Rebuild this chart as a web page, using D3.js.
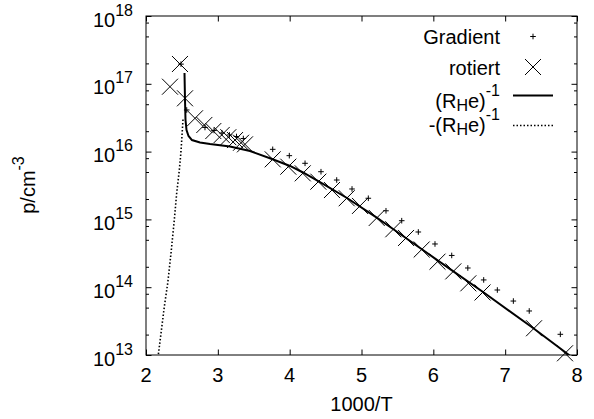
<!DOCTYPE html>
<html><head><meta charset="utf-8">
<script src="https://cdn.jsdelivr.net/npm/d3@7"></script>
<style>
html,body{margin:0;padding:0;background:#fff;}
text{font-family:"Liberation Sans",Arial,Helvetica,sans-serif;fill:#000;}
</style></head>
<body>
<svg id="chart" width="594" height="419"></svg>
<script>
// ---------- data ----------
const xTicks = [2, 3, 4, 5, 6, 7, 8];
const yExponents = [13, 14, 15, 16, 17, 18];
const yMinorMantissas = [2, 5, 8];

const gradientX = [2.487, 2.567, 2.821, 2.947, 3.058, 3.162, 3.260, 3.355,
  3.764, 3.995, 4.214, 4.436, 4.655, 4.868, 5.095, 5.341, 5.560, 5.791,
  6.023, 6.256, 6.480, 6.701, 6.891, 7.114, 7.335, 7.768];
const gradientY = [1.95e17, 4.11e16, 2.27e16, 2.05e16, 1.88e16, 1.76e16, 1.67e16, 1.56e16,
  1.08e16, 8.71e15, 6.72e15, 5.05e15, 3.81e15, 2.81e15, 2.05e15, 1.34e15, 9.57e14, 6.52e14,
  4.34e14, 2.94e14, 1.92e14, 1.28e14, 9.09e13, 6.25e13, 4.46e13, 2.02e13];

const rotiertX = [2.473, 2.334, 2.543, 2.682, 2.812, 2.937, 3.054, 3.146, 3.239, 3.323, 3.378,
  3.764, 3.981, 4.182, 4.399, 4.589, 4.794, 4.979, 5.212, 5.443, 5.620, 5.838,
  6.058, 6.278, 6.487, 6.685, 7.402, 7.833];
const rotiertY = [1.96e17, 9.06e16, 6.11e16, 3.10e16, 2.47e16, 2.01e16, 1.76e16, 1.63e16, 1.48e16, 1.35e16, 1.28e16,
  7.69e15, 5.99e15, 4.78e15, 3.60e15, 2.71e15, 2.05e15, 1.58e15, 1.05e15, 7.15e14, 5.32e14, 3.60e14,
  2.38e14, 1.71e14, 1.14e14, 8.36e13, 2.48e13, 1.06e13];

const fitX = [2.536, 2.543, 2.550, 2.564, 2.592, 2.640, 2.752, 2.891, 3.169, 3.448, 3.754,
  4.005, 4.186, 4.422, 4.798, 5.202, 5.439, 5.815, 6.274, 6.692, 7.388, 7.889, 7.95];
const fitY = [1.44e17, 5.77e16, 2.92e16, 2.08e16, 1.70e16, 1.48e16, 1.36e16, 1.29e16, 1.19e16, 1.02e16, 7.78e15,
  6.14e15, 4.92e15, 3.56e15, 2.07e15, 1.08e15, 7.21e14, 3.78e14, 1.73e14, 8.49e13, 2.50e13, 1.0e13, 8.9e12];

const negFitX = [2.515, 2.487, 2.464, 2.427, 2.394, 2.348, 2.302, 2.255, 2.209, 2.177, 2.160];
const negFitY = [2.97e16, 9.97e15, 5.36e15, 2.43e15, 9.8e14, 3.16e14, 1.14e14, 5.15e13, 2.09e13, 1.12e13, 8e12];

// ---------- layout ----------
const L = 146, R = 577, T = 16, B = 355;
const FS = 20, FSS = 16;
const svg = d3.select("#chart");
const x = d3.scaleLinear().domain([2, 8]).range([L, R]);
const y = d3.scaleLog().domain([1e13, 1e18]).range([B, T]);

svg.append("defs").append("clipPath").attr("id", "clip")
  .append("rect").attr("x", L).attr("y", T).attr("width", R - L).attr("height", B - T);

const majorY = yExponents.map(e => Math.pow(10, e));
const minorY = [];
yExponents.slice(0, -1).forEach(e => yMinorMantissas.forEach(m => minorY.push(m * Math.pow(10, e))));

function styleAxis(g) {
  g.select(".domain").remove();
  g.selectAll(".tick line").attr("stroke", "#000").attr("stroke-width", 1);
  g.selectAll(".tick text").remove();
}
svg.append("g").attr("transform", `translate(0,${B})`)
  .call(d3.axisBottom(x).tickValues(xTicks).tickSizeInner(-5.5).tickSizeOuter(0)).call(styleAxis);
svg.append("g").attr("transform", `translate(0,${T})`)
  .call(d3.axisTop(x).tickValues(xTicks).tickSizeInner(-5.5).tickSizeOuter(0)).call(styleAxis);
svg.append("g").attr("transform", `translate(${L},0)`)
  .call(d3.axisLeft(y).tickValues(majorY).tickSizeInner(-5.5).tickSizeOuter(0)).call(styleAxis);
svg.append("g").attr("transform", `translate(${R},0)`)
  .call(d3.axisRight(y).tickValues(majorY).tickSizeInner(-5.5).tickSizeOuter(0)).call(styleAxis);
svg.append("g").attr("transform", `translate(${L},0)`)
  .call(d3.axisLeft(y).tickValues(minorY).tickSizeInner(-3).tickSizeOuter(0)).call(styleAxis);
svg.append("g").attr("transform", `translate(${R},0)`)
  .call(d3.axisRight(y).tickValues(minorY).tickSizeInner(-3).tickSizeOuter(0)).call(styleAxis);

svg.append("rect").attr("x", L).attr("y", T).attr("width", R - L).attr("height", B - T)
  .attr("fill", "none").attr("stroke", "#000").attr("stroke-width", 1);

svg.append("g").selectAll("text").data(xTicks).join("text")
  .attr("x", d => x(d)).attr("y", B + 27).attr("text-anchor", "middle")
  .attr("font-size", FS).text(d => d);

const yl = svg.append("g").selectAll("text").data(yExponents).join("text")
  .attr("x", 133).attr("y", d => y(Math.pow(10, d)) + 10.5).attr("text-anchor", "end")
  .attr("font-size", FS);
yl.append("tspan").text("10");
yl.append("tspan").attr("font-size", FSS).attr("dy", -11).text(d => d);

svg.append("text").attr("x", (L + R) / 2).attr("y", 411).attr("text-anchor", "middle")
  .attr("font-size", FS).text("1000/T");
const yt = svg.append("text").attr("transform", "translate(35,185) rotate(-90)")
  .attr("text-anchor", "middle").attr("font-size", FS);
yt.append("tspan").text("p/cm");
yt.append("tspan").attr("font-size", FSS).attr("dy", -11).text("-3");

const plot = svg.append("g").attr("clip-path", "url(#clip)");
const line = d3.line().x(d => x(d[0])).y(d => y(d[1]));
plot.append("path").datum(negFitX.map((v, i) => [v, negFitY[i]]))
  .attr("d", line).attr("fill", "none").attr("stroke", "#000")
  .attr("stroke-width", 1.6).attr("stroke-dasharray", "1.5,2");
plot.append("path").datum(fitX.map((v, i) => [v, fitY[i]]))
  .attr("d", line).attr("fill", "none").attr("stroke", "#000").attr("stroke-width", 2);

const plus = (px, py, s) => `M${px - s},${py}H${px + s}M${px},${py - s}V${py + s}`;
const cross = (px, py, s) => `M${px - s},${py - s}L${px + s},${py + s}M${px - s},${py + s}L${px + s},${py - s}`;

svg.append("g").selectAll("path").data(rotiertX.map((v, i) => [v, rotiertY[i]])).join("path")
  .attr("d", d => cross(x(d[0]), y(d[1]), 8)).attr("stroke", "#000").attr("stroke-width", 1).attr("fill", "none");
svg.append("g").selectAll("path").data(gradientX.map((v, i) => [v, gradientY[i]])).join("path")
  .attr("d", d => plus(x(d[0]), y(d[1]), 2.8)).attr("stroke", "#000").attr("stroke-width", 1).attr("fill", "none");

const lx = 500, sx0 = 513, sx1 = 553, sxc = 533;
const lg = svg.append("g");
lg.append("text").attr("x", lx).attr("y", 43.5).attr("text-anchor", "end").attr("font-size", FS).text("Gradient");
lg.append("path").attr("d", plus(sxc, 36.5, 2.8)).attr("stroke", "#000").attr("stroke-width", 1);
lg.append("text").attr("x", lx).attr("y", 75).attr("text-anchor", "end").attr("font-size", FS).text("rotiert");
lg.append("path").attr("d", cross(sxc, 67, 8)).attr("stroke", "#000").attr("stroke-width", 1);

function rhe(t, prefix) {
  t.append("tspan").text(prefix + "(R");
  t.append("tspan").attr("font-size", FSS).attr("dy", 3).text("H");
  t.append("tspan").attr("dy", -3).text("e)");
  t.append("tspan").attr("font-size", FSS).attr("dy", -12).text("-1");
}
const t3 = lg.append("text").attr("x", lx).attr("y", 107.5).attr("text-anchor", "end").attr("font-size", FS);
rhe(t3, "");
lg.append("line").attr("x1", sx0).attr("x2", sx1).attr("y1", 95.5).attr("y2", 95.5)
  .attr("stroke", "#000").attr("stroke-width", 2);
const t4 = lg.append("text").attr("x", lx).attr("y", 131.7).attr("text-anchor", "end").attr("font-size", FS);
rhe(t4, "-");
lg.append("line").attr("x1", sx0).attr("x2", sx1).attr("y1", 125.5).attr("y2", 125.5)
  .attr("stroke", "#000").attr("stroke-width", 1.6).attr("stroke-dasharray", "1.5,2");
</script>
</body></html>
